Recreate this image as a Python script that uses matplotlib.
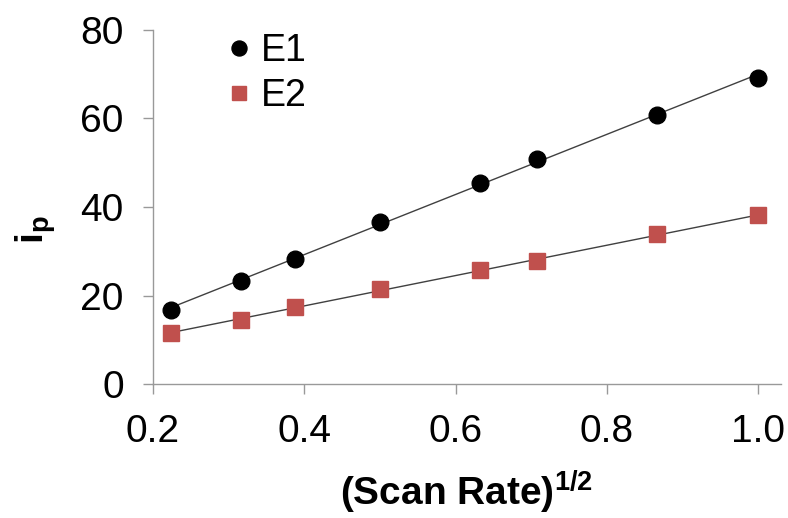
import numpy as np
import matplotlib
matplotlib.use("Agg")
import matplotlib.pyplot as plt

plt.rcParams['font.family'] = ['Liberation Sans', 'DejaVu Sans']
plt.rcParams['mathtext.fontset'] = 'custom'
plt.rcParams['mathtext.rm'] = 'Liberation Sans'
plt.rcParams['mathtext.bf'] = 'Liberation Sans:bold'
plt.rcParams['mathtext.it'] = 'Liberation Sans:italic'

# square root of scan rate
sqrt_scan_rate = [0.2236, 0.3162, 0.3873, 0.5, 0.6325, 0.7071, 0.8660, 1.0]
ip_e1 = [16.7, 23.3, 28.3, 36.7, 45.3, 50.9, 60.8, 69.1]
ip_e2 = [11.6, 14.6, 17.4, 21.4, 25.7, 27.9, 33.8, 38.1]
series_names = ["E1", "E2"]
x_ticks = [0.2, 0.4, 0.6, 0.8, 1.0]
x_tick_labels = ["0.2", "0.4", "0.6", "0.8", "1.0"]
y_ticks = [0, 20, 40, 60, 80]

fig = plt.figure(figsize=(7.88, 5.18), dpi=100)
ax = fig.add_axes([0.194, 0.258, 0.797, 0.685])

x = np.array(sqrt_scan_rate)
colors = ["black", "#C0504D"]
markers = ["o", "s"]
for ys, name, c, m in zip([ip_e1, ip_e2], series_names, colors, markers):
    ys = np.array(ys)
    ax.plot(x, ys, linestyle="none", marker=m, ms=12 if m == "o" else 11.5,
            color=c, markeredgecolor=c, label=name, zorder=3)
    # linear trendline
    k, b = np.polyfit(x, ys, 1)
    xf = np.array([x.min(), x.max()])
    ax.plot(xf, k * xf + b, color="#404040", lw=1.0, zorder=2)

ax.set_xlim(0.2, 1.03)
ax.set_ylim(0, 80)
ax.set_xticks(x_ticks)
ax.set_xticklabels(x_tick_labels)
ax.set_yticks(y_ticks)

for s in ["top", "right"]:
    ax.spines[s].set_visible(False)
for s in ["left", "bottom"]:
    ax.spines[s].set_color("#999999")
    ax.spines[s].set_linewidth(1.0)
ax.tick_params(axis="both", direction="out", length=7, width=1.0,
               color="#999999", labelsize=28, pad=14)

ax.set_xlabel(r"(Scan Rate)$^{\mathbf{1/2}}$", fontsize=28, fontweight="bold", labelpad=14)
fig.text(0.045, 0.556, r"$\mathbf{i_p}$", fontsize=28, rotation=90,
         ha="center", va="center")

leg = ax.legend(loc="upper left", bbox_to_anchor=(0.119, 0.99), frameon=False,
                fontsize=27, handlelength=0.6, handletextpad=0.3,
                labelspacing=0.23, markerscale=0.9, borderaxespad=0,
                borderpad=0)

fig.savefig("out.png", dpi=100)
